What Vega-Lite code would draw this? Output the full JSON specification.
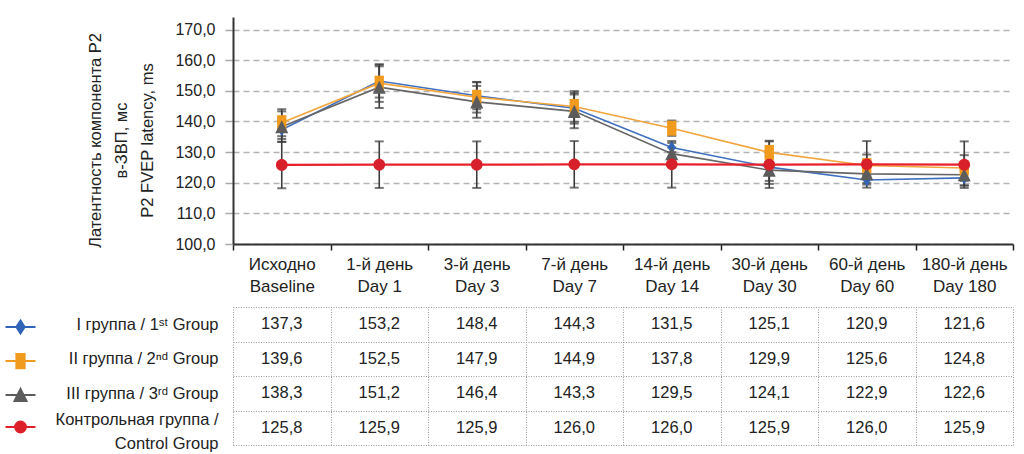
{
  "$schema": "https://vega.github.io/schema/vega-lite/v6.json",
  "padding": {"left": 12, "top": 17, "right": 5, "bottom": 5},
  "bounds": "flush",
  "spacing": 63,
  "config": {
    "font": "Liberation Sans, Arial, sans-serif",
    "view": {"stroke": null},
    "locale": {"number": {"decimal": ",", "thousands": " ", "grouping": [3], "currency": ["", ""]}}
  },
  "datasets": {
    "d": [
      {"day": "Исходно|Baseline", "g": "g1", "v": 137.3, "e": 3.0},
      {"day": "1-й день|Day 1", "g": "g1", "v": 153.2, "e": 5.4},
      {"day": "3-й день|Day 3", "g": "g1", "v": 148.4, "e": 4.4},
      {"day": "7-й день|Day 7", "g": "g1", "v": 144.3, "e": 5.0},
      {"day": "14-й день|Day 14", "g": "g1", "v": 131.5, "e": 1.5},
      {"day": "30-й день|Day 30", "g": "g1", "v": 125.1, "e": 4.5},
      {"day": "60-й день|Day 60", "g": "g1", "v": 120.9, "e": 1.5},
      {"day": "180-й день|Day 180", "g": "g1", "v": 121.6, "e": 2.5},
      {"day": "Исходно|Baseline", "g": "g2", "v": 139.6, "e": 4.4},
      {"day": "1-й день|Day 1", "g": "g2", "v": 152.5, "e": 6.1},
      {"day": "3-й день|Day 3", "g": "g2", "v": 147.9, "e": 5.0},
      {"day": "7-й день|Day 7", "g": "g2", "v": 144.9, "e": 5.0},
      {"day": "14-й день|Day 14", "g": "g2", "v": 137.8, "e": 2.5},
      {"day": "30-й день|Day 30", "g": "g2", "v": 129.9, "e": 3.8},
      {"day": "60-й день|Day 60", "g": "g2", "v": 125.6, "e": 3.6},
      {"day": "180-й день|Day 180", "g": "g2", "v": 124.8, "e": 4.2},
      {"day": "Исходно|Baseline", "g": "g3", "v": 138.3, "e": 5.0},
      {"day": "1-й день|Day 1", "g": "g3", "v": 151.2, "e": 6.8},
      {"day": "3-й день|Day 3", "g": "g3", "v": 146.4, "e": 5.2},
      {"day": "7-й день|Day 7", "g": "g3", "v": 143.3, "e": 5.5},
      {"day": "14-й день|Day 14", "g": "g3", "v": 129.5, "e": 2.0},
      {"day": "30-й день|Day 30", "g": "g3", "v": 124.1, "e": 4.5},
      {"day": "60-й день|Day 60", "g": "g3", "v": 122.9, "e": 3.0},
      {"day": "180-й день|Day 180", "g": "g3", "v": 122.6, "e": 3.5},
      {"day": "Исходно|Baseline", "g": "ctrl", "v": 125.8, "e": 7.6},
      {"day": "1-й день|Day 1", "g": "ctrl", "v": 125.9, "e": 7.6},
      {"day": "3-й день|Day 3", "g": "ctrl", "v": 125.9, "e": 7.6},
      {"day": "7-й день|Day 7", "g": "ctrl", "v": 126.0, "e": 7.6},
      {"day": "14-й день|Day 14", "g": "ctrl", "v": 126.0, "e": 7.6},
      {"day": "30-й день|Day 30", "g": "ctrl", "v": 125.9, "e": 7.6},
      {"day": "60-й день|Day 60", "g": "ctrl", "v": 126.0, "e": 7.6},
      {"day": "180-й день|Day 180", "g": "ctrl", "v": 125.9, "e": 7.6}
    ]
  },
  "vconcat": [
    {
      "width": 780,
      "height": 227,
      "data": {"name": "d"},
      "resolve": {"scale": {"color": "independent", "shape": "independent", "fill": "independent"}},
      "encoding": {
        "x": {
          "field": "day", "type": "nominal",
          "scale": {"domain": ["Исходно|Baseline", "1-й день|Day 1", "3-й день|Day 3", "7-й день|Day 7", "14-й день|Day 14", "30-й день|Day 30", "60-й день|Day 60", "180-й день|Day 180"], "paddingInner": 0, "paddingOuter": 0},
          "axis": {
            "title": null, "labelAngle": 0, "labelExpr": "datum.value ? split(datum.value, '|') : ''",
            "labelFontSize": 17, "labelLineHeight": 22, "labelColor": "#222", "labelPadding": 6,
            "tickBand": "extent", "tickSize": 6, "tickColor": "#222", "tickWidth": 1.5,
            "domainColor": "#333", "domainWidth": 2, "grid": false
          }
        },
        "y": {"field": "v", "type": "quantitative",
          "scale": {"domain": [100, 174.1], "nice": false, "zero": false},
          "axis": {
            "values": [100, 110, 120, 130, 140, 150, 160, 170], "format": ".1f", "labelOverlap": false,
            "title": ["Латентность компонента P2", "в-ЗВП, мс", "P2 FVEP latency, ms"],
            "titleFontSize": 16.5, "titleFontWeight": "normal", "titleColor": "#222", "titleLineHeight": 26, "titlePadding": 19, "titleY": 123,
            "labelFontSize": 16, "labelColor": "#222", "labelPadding": 10,
            "tickSize": 8, "tickColor": "#aaaaaa", "tickWidth": 1.5,
            "domainColor": "#333", "domainWidth": 2,
            "grid": true, "gridColor": "#b4b4b4", "gridDash": [6, 4], "gridWidth": 1.5
          }
        }
      },
      "layer": [
        {
          "mark": {"type": "errorbar", "ticks": {"size": 9, "thickness": 2}, "color": "#3c3c3c", "thickness": 1.6},
          "encoding": {"yError": {"field": "e"}}
        },
        {
          "transform": [{"filter": "datum.g != 'ctrl'"}],
          "mark": {"type": "line", "strokeWidth": 1.6},
          "encoding": {
            "color": {"field": "g", "type": "nominal", "scale": {"domain": ["g1", "g2", "g3"], "range": ["#3f6fbf", "#f2a53c", "#666666"]}, "legend": null}
          }
        },
        {
          "transform": [{"filter": "datum.g == 'ctrl'"}],
          "mark": {"type": "line", "strokeWidth": 2.2, "color": "#e8202a"},
          "encoding": {}
        },
        {
          "mark": {"type": "point", "filled": true, "opacity": 1, "size": 225},
          "encoding": {
            "color": {"field": "g", "type": "nominal",
              "scale": {"domain": ["g1", "g2", "g3", "ctrl"], "range": ["#2f64b8", "#f09a1e", "#5c5c5c", "#d8202a"]},
              "legend": null},
            "shape": {"field": "g", "type": "nominal",
              "scale": {"domain": ["g1", "g2", "g3", "ctrl"], "range": ["M0,-0.85L0.55,0L0,0.85L-0.55,0Z", "M-0.62,-1L0.62,-1L0.62,1L-0.62,1Z", "M0,-0.87L0.87,0.87L-0.87,0.87Z", "M0.78,0A0.78,0.78,0,1,1,-0.78,0A0.78,0.78,0,1,1,0.78,0Z"]},
              "legend": null}
          }
        },
        {
          "transform": [{"filter": "false"}],
          "mark": {"type": "point", "filled": false, "size": 225, "strokeWidth": 2, "opacity": 1},
          "encoding": {
            "color": {"field": "g", "type": "nominal",
              "scale": {"domain": ["g1", "g2", "g3", "ctrl"], "range": ["#2f64b8", "#f09a1e", "#5c5c5c", "#e02028"]},
              "legend": {
                "orient": "none", "legendX": -221, "legendY": 301.5, "title": null, "padding": 0,
                "symbolSize": 225, "rowPadding": 12, "labelExpr": "''", "labelFontSize": 10, "labelOffset": 0,
                "symbolStrokeWidth": 2
              }},
            "fill": {"field": "g", "type": "nominal",
              "scale": {"domain": ["g1", "g2", "g3", "ctrl"], "range": ["#2f64b8", "#f09a1e", "#5c5c5c", "#d8202a"]}},
            "shape": {"field": "g", "type": "nominal",
              "scale": {"domain": ["g1", "g2", "g3", "ctrl"], "range": ["M-2,0L2,0M0,-0.85L0.55,0L0,0.85L-0.55,0Z", "M-2,0L2,0M-0.55,-0.95L0.55,-0.95L0.55,0.95L-0.55,0.95Z", "M-2,0L2,0M0,-0.8L0.8,0.8L-0.8,0.8Z", "M-2,0L2,0M0.72,0A0.72,0.72,0,1,1,-0.72,0A0.72,0.72,0,1,1,0.72,0Z"]}}
          }
        }
      ]
    },
    {
      "width": 780,
      "height": 138,
      "data": {"name": "d"},
      "mark": {"type": "text", "fontSize": 16.5, "color": "#222"},
      "encoding": {
        "x": {"field": "day", "type": "nominal",
          "scale": {"domain": ["Исходно|Baseline", "1-й день|Day 1", "3-й день|Day 3", "7-й день|Day 7", "14-й день|Day 14", "30-й день|Day 30", "60-й день|Day 60", "180-й день|Day 180"], "paddingInner": 0, "paddingOuter": 0},
          "axis": {"title": null, "labels": false, "ticks": false, "domain": false, "grid": true, "tickBand": "extent", "gridColor": "#9a9a9a", "gridDash": [1, 1.5], "gridWidth": 1}},
        "y": {"field": "g", "type": "nominal",
          "scale": {"domain": ["g1", "g2", "g3", "ctrl"], "paddingInner": 0, "paddingOuter": 0},
          "axis": {
            "title": null, "domain": false, "ticks": false, "grid": true, "tickBand": "extent", "gridColor": "#9a9a9a", "gridDash": [1, 1.5], "gridWidth": 1,
            "labelPadding": 15, "labelFontSize": 16.5, "labelColor": "#222", "labelLineHeight": 24, "labelLimit": 0,
            "labelExpr": "datum.value == 'g1' ? 'I группа / 1ˢᵗ Group' : datum.value == 'g2' ? 'II группа / 2ⁿᵈ Group' : datum.value == 'g3' ? 'III группа / 3ʳᵈ Group' : datum.value == 'ctrl' ? ['Контрольная группа /', 'Control Group'] : ''",
            "labelOffset": {"condition": {"test": "datum.value == 'ctrl'", "value": -8}, "value": 0}
          }
        },
        "text": {"field": "v", "type": "quantitative", "format": ".1f"}
      }
    }
  ]
}
